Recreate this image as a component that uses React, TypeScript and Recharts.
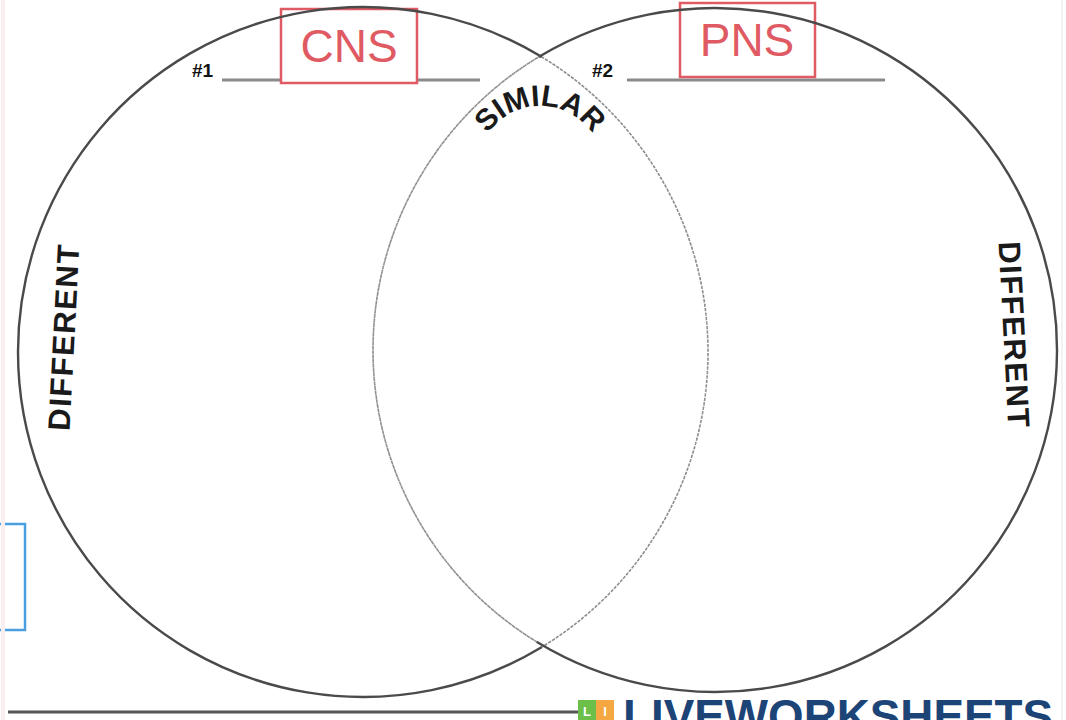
import React from 'react';
import { PieChart, Pie, Cell, Customized } from 'recharts';

// Venn diagram regions: arc span (degrees) of each circle's boundary
const circleLabels = ['CNS', 'PNS'];
const circleNumbers = ['#1', '#2'];
const leftArcs = [
  { region: 'SIMILAR', degrees: 118 },
  { region: 'DIFFERENT', degrees: 242 },
];
const rightArcs = [
  { region: 'SIMILAR', degrees: 118 },
  { region: 'DIFFERENT', degrees: 242 },
];
const regionLabels = ['DIFFERENT', 'SIMILAR', 'DIFFERENT'];
const brand = 'LIVEWORKSHEETS';

const W = 1066;
const H = 720;
const SOLID = '#4a4a4a';
const DOTTED = '#8e8e8e';
const RED = '#e05a63';

const arcStyle = (region: string) =>
  region === 'SIMILAR'
    ? { stroke: DOTTED, strokeWidth: 1.6, strokeDasharray: '2 2.5' }
    : { stroke: SOLID, strokeWidth: 2.4 };

const Decorations = () => {
  const sans = 'Liberation Sans, Arial, sans-serif';
  return (
    <g>
      {/* answer lines */}
      <line x1={222} y1={80} x2={480} y2={80} stroke="#8a8a8a" strokeWidth={3} />
      <line x1={627} y1={80} x2={885} y2={80} stroke="#8a8a8a" strokeWidth={3} />
      <text x={192} y={77} fontFamily={sans} fontWeight="bold" fontSize={19} fill="#111">{circleNumbers[0]}</text>
      <text x={592} y={77} fontFamily={sans} fontWeight="bold" fontSize={19} fill="#111">{circleNumbers[1]}</text>
      {/* label boxes */}
      <rect x={281} y={9} width={136} height={74} fill="#fff" stroke={RED} strokeWidth={2.5} />
      <text x={349} y={62} textAnchor="middle" fontFamily={sans} fontSize={46} fill={RED}>{circleLabels[0]}</text>
      <rect x={680} y={3} width={135} height={74} fill="#fff" stroke={RED} strokeWidth={2.5} />
      <text x={747} y={56} textAnchor="middle" fontFamily={sans} fontSize={46} fill={RED}>{circleLabels[1]}</text>
      {/* region labels */}
      <text
        transform="translate(64,337) rotate(-87)"
        textAnchor="middle"
        dominantBaseline="central"
        fontFamily={sans}
        fontWeight="bold"
        fontSize={31}
        letterSpacing={1.5}
        fill="#1a1a1a"
      >
        {regionLabels[0]}
      </text>
      <text
        transform="translate(1014,335) rotate(87)"
        textAnchor="middle"
        dominantBaseline="central"
        fontFamily={sans}
        fontWeight="bold"
        fontSize={31}
        letterSpacing={1.5}
        fill="#1a1a1a"
      >
        {regionLabels[2]}
      </text>
      <defs>
        <path id="similarArc" d="M 472 182 A 68 76 0 0 1 608 182" />
      </defs>
      <text fontFamily={sans} fontWeight="bold" fontSize={30} fill="#1a1a1a">
        <textPath href="#similarArc" startOffset="50%" textAnchor="middle">
          {regionLabels[1]}
        </textPath>
      </text>
      {/* blue box at left edge */}
      <rect x={-6} y={524} width={31} height={106} fill="none" stroke="#4a9fe0" strokeWidth={2.5} />
      {/* bottom rule */}
      <line x1={8} y1={712} x2={600} y2={712} stroke="#555" strokeWidth={3} />
      {/* brand */}
      <rect x={578} y={700} width={18} height={22} fill="#6cc04a" />
      <rect x={596} y={700} width={18} height={22} fill="#f5a742" />
      <text x={587} y={716} textAnchor="middle" fontFamily={sans} fontWeight="bold" fontSize={13} fill="#fff">L</text>
      <text x={605} y={716} textAnchor="middle" fontFamily={sans} fontWeight="bold" fontSize={13} fill="#fff">I</text>
      <text x={623} y={732} fontFamily={sans} fontWeight="bold" fontSize={46} fill="#1d4477" textLength={430} lengthAdjust="spacingAndGlyphs">
        {brand}
      </text>
      <line x1={1062} y1={0} x2={1062} y2={720} stroke="#eeeeee" strokeWidth={1.5} />
      <line x1={3} y1={0} x2={3} y2={720} stroke="#fbeeee" strokeWidth={4} />
    </g>
  );
};

export default function App() {
  return (
    <div style={{ position: 'absolute', left: 0, top: 0, width: W, height: H, background: '#fff' }}>
      <PieChart width={W} height={H} margin={{ top: 0, right: 0, bottom: 0, left: 0 }}>
        <Pie
          data={leftArcs}
          dataKey="degrees"
          nameKey="region"
          cx={363}
          cy={352}
          innerRadius={344.99}
          outerRadius={345}
          startAngle={-59}
          endAngle={301}
          fill="none"
          isAnimationActive={false}
          label={false}
          labelLine={false}
        >
          {leftArcs.map((a, i) => (
            <Cell key={i} fill="none" {...arcStyle(a.region)} />
          ))}
        </Pie>
        <Pie
          data={rightArcs}
          dataKey="degrees"
          nameKey="region"
          cx={715}
          cy={350}
          innerRadius={341.99}
          outerRadius={342}
          startAngle={120.8}
          endAngle={480.8}
          fill="none"
          isAnimationActive={false}
          label={false}
          labelLine={false}
        >
          {rightArcs.map((a, i) => (
            <Cell key={i} fill="none" {...arcStyle(a.region)} />
          ))}
        </Pie>
        <Customized component={Decorations} />
      </PieChart>
    </div>
  );
}
